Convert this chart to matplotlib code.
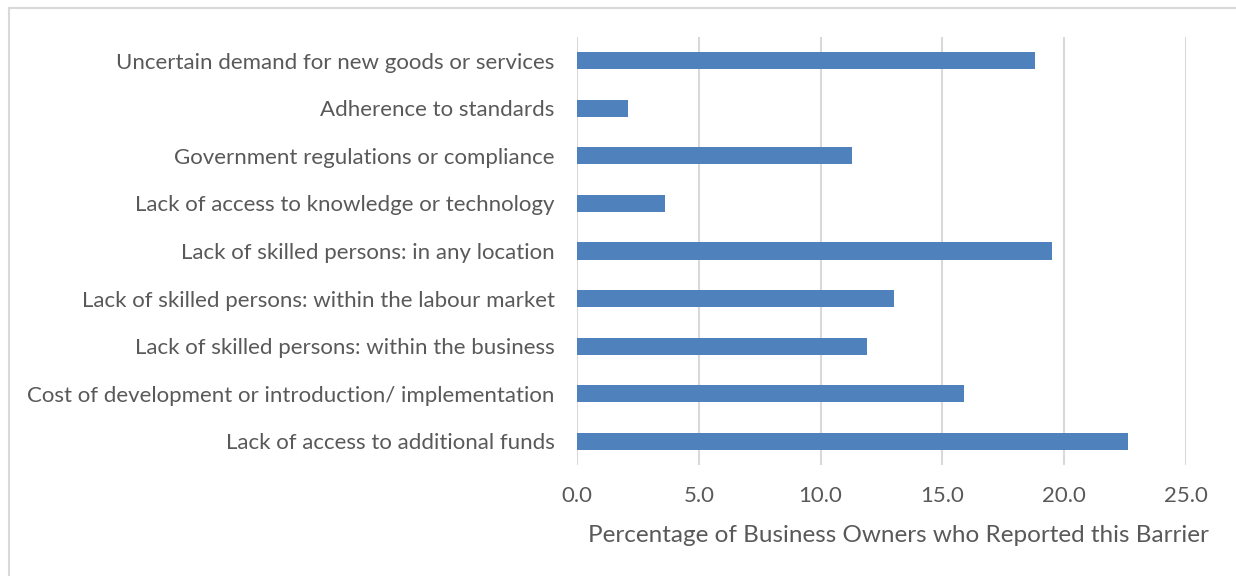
import matplotlib.pyplot as plt
import numpy as np
from matplotlib.lines import Line2D

barriers = [
    'Lack of access to additional funds',
    'Cost of development or introduction/ implementation',
    'Lack of skilled persons: within the business',
    'Lack of skilled persons: within the labour market',
    'Lack of skilled persons: in any location',
    'Lack of access to knowledge or technology',
    'Government regulations or compliance',
    'Adherence to standards',
    'Uncertain demand for new goods or services',
]
percent = [22.6, 15.9, 11.9, 13.0, 19.5, 3.6, 11.3, 2.1, 18.8]
xticks = [0, 5, 10, 15, 20, 25]

plt.rcParams['font.family'] = ['Lato', 'DejaVu Sans']
text_color = '#595959'
grid_color = '#D9D9D9'

fig = plt.figure(figsize=(12.36, 5.76), dpi=100)
W, H = 1236, 576
ax = fig.add_axes([577 / W, 1 - 465 / H, 609 / W, 428 / H])

y = np.arange(len(barriers))
ax.barh(y, percent, height=0.36, color='#4F81BD', zorder=3)

ax.set_xlim(0, 25)
ax.set_ylim(-0.5, len(barriers) - 0.5)
ax.set_xticks(xticks)
ax.set_xticklabels([f'{t:.1f}' for t in xticks])
ax.set_yticks(y)
ax.set_yticklabels(barriers)

ax.grid(axis='x', color=grid_color, linewidth=1.5, zorder=0)
for s in ax.spines.values():
    s.set_visible(False)
ax.tick_params(axis='both', length=0, labelsize=16, labelcolor=text_color)
ax.tick_params(axis='y', pad=16)
ax.tick_params(axis='x', pad=15)

ax.set_xlabel('Percentage of Business Owners who Reported this Barrier',
              fontsize=17.5, color=text_color, va='center')
ax.xaxis.set_label_coords((898 - 577) / 609, (465 - 536) / 428)

# thin frame along the top and left edges
fig.add_artist(Line2D([9 / W, 1], [1 - 7.5 / H] * 2, color=grid_color, lw=1.5))
fig.add_artist(Line2D([9 / W] * 2, [0, 1 - 7.5 / H], color=grid_color, lw=1.5))

fig.savefig('out.png', dpi=100, facecolor='white')
